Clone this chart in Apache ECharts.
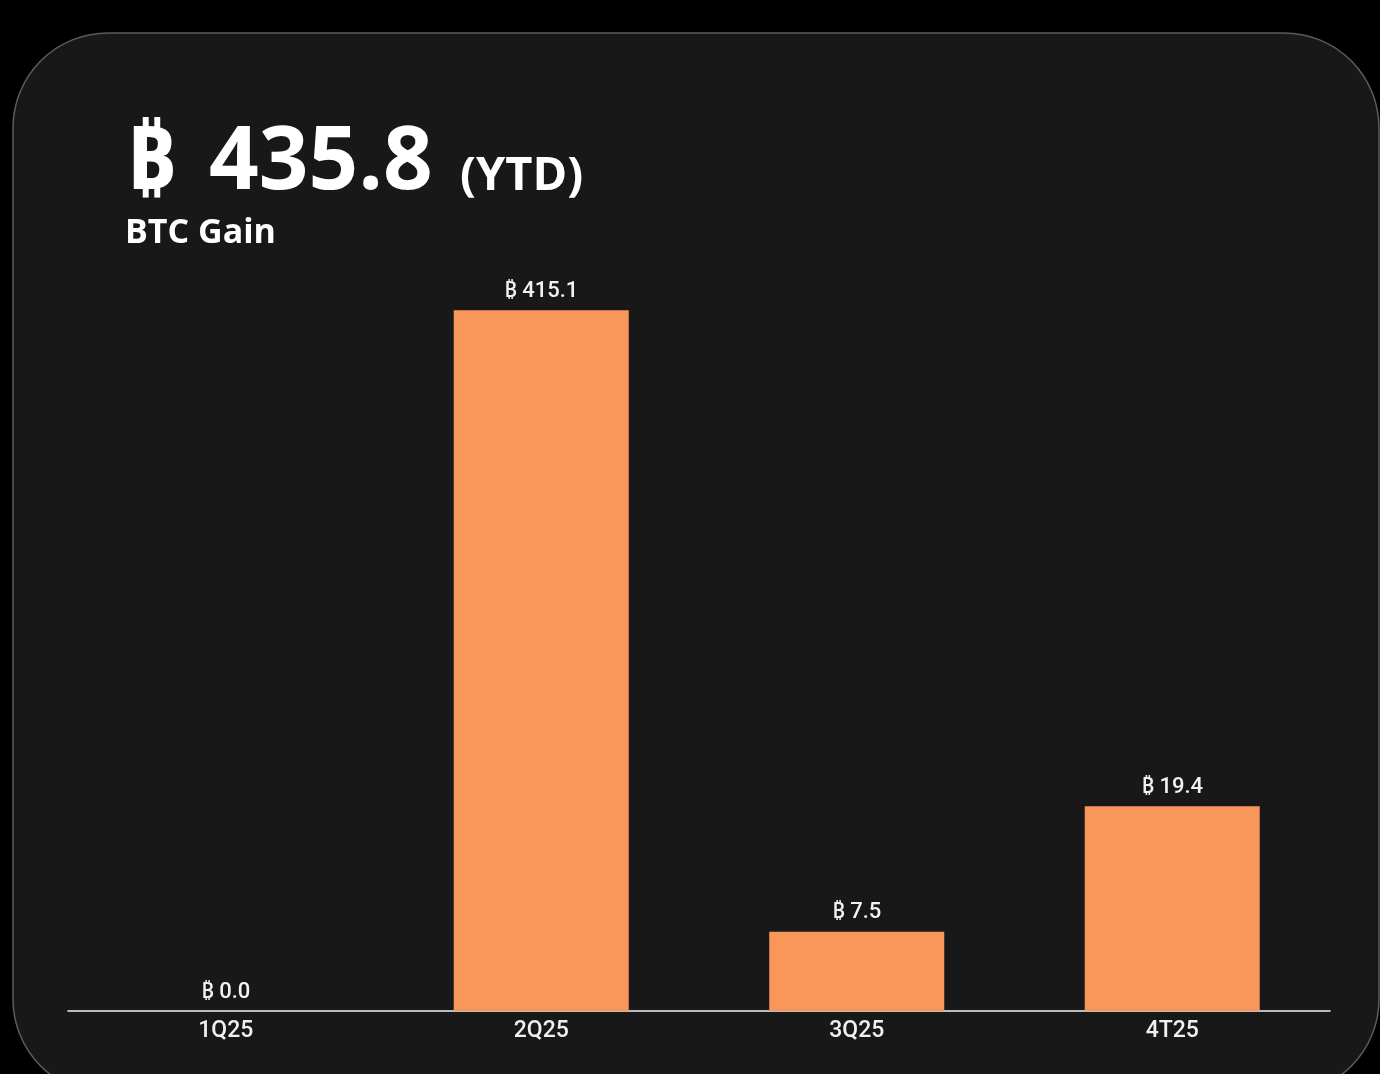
<!DOCTYPE html>
<html>
<head>
<meta charset="utf-8">
<style>
html,body{margin:0;padding:0;background:#000;}
#chart{width:1380px;height:1074px;}
</style>
<script src="https://cdn.jsdelivr.net/npm/echarts@6.0.0/dist/echarts.min.js"></script>
</head>
<body>
<div id="chart"></div>
<script>
const categories = ['1Q25', '2Q25', '3Q25', '4T25'];
const btcGain = [0.0, 415.1, 7.5, 19.4];
const ytdTotal = 435.8;
const headlineLabel = 'BTC Gain';
const ytdTag = '(YTD)';
const btcSign = '\u20BF';

const chart = echarts.init(document.getElementById('chart'), null, {renderer: 'canvas'});
const titleFont = "'Open Sans', 'Noto Sans', sans-serif";
const labelFont = "Roboto, 'Noto Sans', sans-serif";

chart.setOption({
  backgroundColor: '#000',
  animation: false,
  graphic: [
    {type: 'rect', z: 0, shape: {x: 13, y: 33, width: 1366, height: 1061, r: 95},
     style: {fill: '#181818', stroke: '#5c5c5c', lineWidth: 1.5}},
    {type: 'text', z: 10, x: 126, y: 164,
     style: {text: btcSign, fill: '#ffffff', font: "700 87px " + titleFont, verticalAlign: 'middle', align: 'left'}},
    {type: 'text', z: 10, x: 209, y: 164,
     style: {text: ytdTotal.toFixed(1), fill: '#ffffff', font: "700 87px " + titleFont, verticalAlign: 'middle', align: 'left'}},
    {type: 'text', z: 10, x: 460, y: 177,
     style: {text: ytdTag, fill: '#ffffff', font: "700 47px " + titleFont, verticalAlign: 'middle', align: 'left'}},
    {type: 'text', z: 10, x: 125, y: 233,
     style: {text: headlineLabel, fill: '#ffffff', font: "700 34px " + titleFont, verticalAlign: 'middle', align: 'left'}}
  ],
  grid: {left: 68, right: 50, top: 153, bottom: 63, containLabel: false},
  xAxis: {
    type: 'category',
    data: categories,
    axisLine: {show: true, lineStyle: {color: '#f2f2f2', width: 1.5}},
    axisTick: {show: false},
    axisLabel: {color: '#f0f0f0', fontSize: 23, fontFamily: labelFont, fontWeight: 500, margin: 9},
    splitLine: {show: false}
  },
  yAxis: {
    type: 'value',
    min: 0,
    max: 430,
    show: false,
    splitLine: {show: false},
    breaks: [{start: 30, end: 378.72, gap: 0}],
    breakArea: {show: false}
  },
  series: [{
    type: 'bar',
    data: btcGain,
    barWidth: 175,
    itemStyle: {color: '#F9965A'},
    label: {
      show: true,
      position: 'top',
      distance: 8,
      color: '#f2f2f2',
      fontSize: 22,
      fontFamily: labelFont,
      fontWeight: 500,
      formatter: p => btcSign + ' ' + p.value.toFixed(1)
    }
  }]
});
</script>
</body>
</html>
